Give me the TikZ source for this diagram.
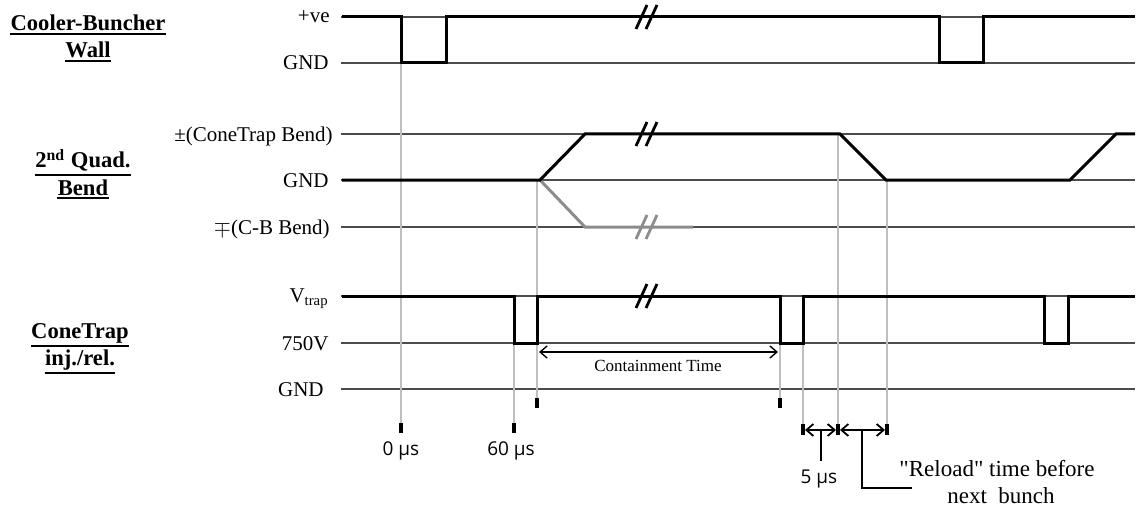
\documentclass[tikz,border=0pt]{standalone}
\usepackage{fontspec}
\setmainfont{Liberation Serif}[Ligatures=TeXOff]
\newfontfamily\sansf{Open Sans}
\usetikzlibrary{arrows.meta}
\begin{document}
\begin{tikzpicture}[x=0.5pt,y=-0.5pt,
  level/.style={line width=0.6pt, draw=black!70},
  sig/.style={line width=1.5pt, line join=miter},
  gsig/.style={line width=1.5pt, draw=black!45},
  guide/.style={line width=1pt, draw=black!25},
  tickmark/.style={line width=1.6pt},
  lvl/.style={anchor=base east, inner sep=0pt, font=\fontsize{10.5}{12}\selectfont},
  ttl/.style={anchor=base, inner sep=0pt, font=\fontsize{11.3}{13}\selectfont\bfseries},
  uline/.style={line width=1pt},
  brk/.style={line width=1.4pt},
  dimline/.style={line width=0.9pt, {Straight Barb[length=3.5pt,width=6pt]}-{Straight Barb[length=3.5pt,width=6pt]}},
  callout/.style={line width=1pt},
  slabel/.style={anchor=base, inner sep=0pt, font=\sansf\fontsize{9.5}{11}\selectfont},
  note/.style={anchor=base, inner sep=0pt, font=\fontsize{11.5}{13}\selectfont},
]
\useasboundingbox (0,0) rectangle (1140,508);

% titles
\node[ttl] (t1a) at (88,31) {Cooler-Buncher};
\node[ttl] (t1b) at (88,58) {Wall};
\node[ttl] (t2a) at (83,168) {2\textsuperscript{nd} Quad.};
\node[ttl] (t2b) at (83,195) {Bend};
\node[ttl] (t3a) at (80,338) {ConeTrap};
\node[ttl] (t3b) at (80,365) {inj./rel.};
\foreach \n in {t1a,t1b,t2a,t2b,t3a,t3b}
  \draw[uline] ([yshift=-1.3pt]\n.south west) -- ([yshift=-1.3pt]\n.south east);

% level labels
\node[lvl] (v1) at (330,23) {+ve};
\node[lvl] (v2) at (329,70) {GND};
\node[lvl] (v3) at (333,141) {±(ConeTrap Bend)};
\node[lvl] (v4) at (329,187) {GND};
\node[lvl] (v5) at (330,234) {$\mp$(C-B Bend)};
\node[lvl] (v6) at (329,302) {V\textsubscript{trap}};
\node[lvl] (v7) at (329,350) {750V};
\node[lvl] (v8) at (324,396) {GND};

% level lines
\foreach \y in {17,63,134,180,227,296,343,389}
  \draw[level] (341,\y) -- (1135,\y);

% guide lines
\draw[guide] (401,63) -- (401,423);
\draw[guide] (514,343) -- (514,423);
\draw[guide] (537,180) -- (537,398);
\draw[guide] (780,343) -- (780,398);
\draw[guide] (803,296) -- (803,425);
\draw[guide] (838,134) -- (838,425);
\draw[guide] (887,180) -- (887,425);

% signals
\draw[sig] (342,17) -- (401,17) -- (401,63) -- (446,63) -- (446,17) -- (939,17)
  -- (939,63) -- (983,63) -- (983,17) -- (1135,17);
\draw[gsig] (540,180) -- (585,227) -- (693,227);
\draw[sig] (342,180) -- (540,180) -- (585,134) -- (840,134) -- (886,180)
  -- (1070,180) -- (1116,134) -- (1135,134);
\draw[sig] (342,296) -- (514,296) -- (514,343) -- (537,343) -- (537,296) -- (780,296)
  -- (780,343) -- (803,343) -- (803,296) -- (1044,296) -- (1044,343) -- (1068,343)
  -- (1068,296) -- (1135,296);

% break marks
\foreach \by/\c in {17/black,134/black,296/black,227/black!45} {
  \draw[brk, draw=\c] (636,{\by+12}) -- (647,{\by-12});
  \draw[brk, draw=\c] (646,{\by+12}) -- (657,{\by-12});
}

% ticks
\foreach \tx in {401,514} \draw[tickmark] (\tx,423) -- (\tx,433);
\foreach \tx in {537,780} \draw[tickmark] (\tx,398) -- (\tx,408);
\foreach \tx in {803,838,887} \draw[tickmark] (\tx,424) -- (\tx,435);

% containment time
\draw[dimline, line width=0.7pt] (539,352) -- (778,352);
\node[anchor=base, inner sep=0pt, font=\fontsize{8.5}{10}\selectfont] (ct) at (658,371) {Containment Time};

% 5 us and reload
\draw[dimline] (805,430) -- (836,430);
\draw[dimline] (840,430) -- (885,430);
\coordinate (c1) at (821,430);
\coordinate (c2) at (821,461);
\coordinate (c3) at (862,430);
\coordinate (c4) at (862,488);
\coordinate (c5) at (912,488);
\draw[callout] (c1) -- (c2);
\draw[callout] (c3) -- (c4) -- (c5);

% time labels
\node[slabel] (s0) at (401,455) {0 µs};
\node[slabel] (s60) at (511,455) {60 µs};
\node[slabel] (s5) at (819,483) {5 µs};
\node[note] (r1) at (997,476) {"Reload" time before};
\node[note] (r2) at (1001,503) {next~~bunch};
\end{tikzpicture}
\end{document}
